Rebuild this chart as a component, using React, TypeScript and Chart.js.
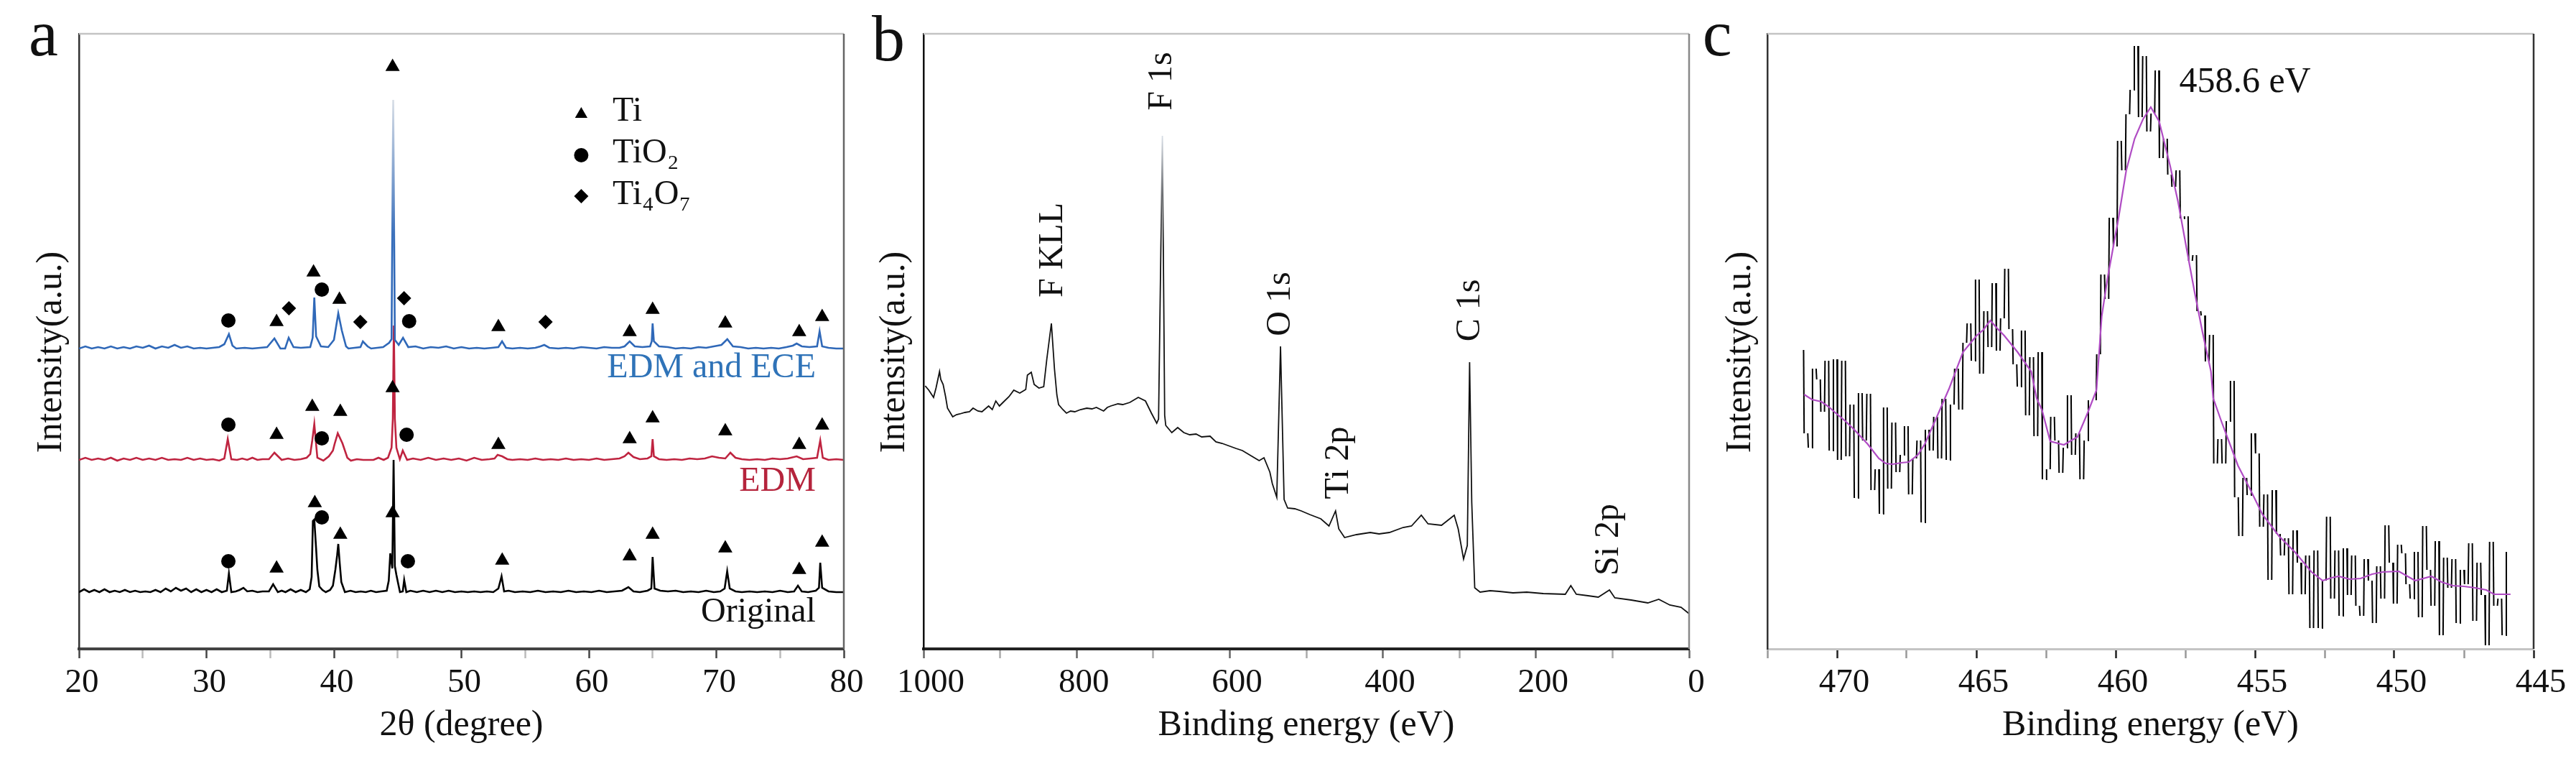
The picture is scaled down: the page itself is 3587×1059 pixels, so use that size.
import { useEffect, useRef } from "react";
import { Chart, registerables } from "chart.js";

Chart.register(...registerables);

const FONT = '"Liberation Serif"';

// panel a: XRD patterns, intensity in a.u.
const originalAngle = [
  20,20.4,20.8,21.2,21.6,22,22.4,22.8,23.2,23.6,
  24,24.4,24.8,25.2,25.6,26,26.4,26.8,27.2,27.6,
  28,28.4,28.8,29.2,29.6,30,30.4,30.8,31.2,31.6,
  31.76,31.95,32.3,32.6,32.9,33.2,33.6,34,34.4,34.9,
  35.23,35.6,35.9,36.2,36.6,37,37.4,37.8,38.1,38.25,
  38.35,38.46,38.6,38.7,38.85,39.1,39.36,39.7,39.92,40.11,
  40.25,40.34,40.45,40.58,40.86,41.3,41.7,42.1,42.5,42.9,
  43.3,43.7,44.14,44.3,44.42,44.58,44.68,44.78,44.9,45.05,
  45.18,45.4,45.51,45.68,46,46.5,47,47.5,48,48.5,
  49,49.5,50,50.5,51,51.5,52,52.5,52.9,53.15,
  53.35,53.7,54.2,54.8,55.4,56,56.6,57.2,57.8,58.4,
  59,59.6,60.2,60.8,61.4,62,62.6,63.1,63.5,64,
  64.6,64.9,65,65.15,65.6,66.2,66.8,67.4,68,68.6,
  69.2,69.8,70.3,70.65,70.85,71.05,71.5,72,72.6,73.2,
  73.8,74.4,75,75.6,76.1,76.4,76.7,77.2,77.8,78.05,
  78.15,78.3,78.8,79.4,80,
];
const originalIntensity = [
  79,83,79,82,79,83,79,81,79,82,
  79,81,79,80,79,82,79,84,80,85,
  81,84,79,83,79,82,79,83,79,81,
  105,79,80,82,85,80,81,79,80,80,
  90,79,81,79,83,79,82,79,83,100,
  178,180,140,110,87,82,79,82,88,110,
  130,146,120,93,79,81,79,80,79,81,
  79,80,81,95,133,112,263,115,103,90,
  79,80,96,79,81,79,81,79,81,79,
  81,79,80,79,80,79,80,79,84,101,
  80,81,79,80,79,81,79,80,79,81,
  79,80,79,81,79,80,81,86,80,79,
  81,84,128,84,81,80,81,79,80,79,
  81,79,80,84,108,84,80,79,80,79,
  80,79,81,79,80,88,80,79,81,85,
  120,85,80,79,79,
];

const edmAngle = [
  20,20.5,21,21.5,22,22.5,23,23.5,24,24.5,
  25,25.5,26,26.5,27,27.5,28,28.5,29,29.5,
  30,30.5,31,31.4,31.67,31.95,32.4,32.8,33.2,33.6,
  34,34.4,34.9,35.33,35.9,36.4,36.9,37.4,37.86,38.14,
  38.3,38.46,38.6,38.7,39.17,39.6,39.92,40.05,40.3,40.67,
  41.05,41.33,41.8,42.3,42.7,43.1,43.49,43.9,44.24,44.52,
  44.62,44.7,44.78,44.9,45.17,45.4,45.74,46.2,46.8,47.4,
  48,48.6,49.2,49.8,50.4,51,51.6,52.2,52.6,52.84,
  53.2,53.6,54,54.6,55.2,55.8,56.4,57,57.6,58.2,
  58.8,59.4,60,60.6,61.2,61.8,62.4,62.8,63.1,63.5,
  64,64.6,64.9,65,65.1,65.5,66.1,66.7,67.3,67.9,
  68.5,69.1,69.66,70.2,70.7,71.1,71.5,72,72.6,73.2,
  73.8,74.4,75,75.6,76.3,76.8,77.4,77.9,78.15,78.35,
  78.8,79.4,80,
];
const edmIntensity = [
  263,266,263,265,263,266,262,265,263,266,
  263,265,263,266,263,264,263,266,263,265,
  263,264,262,265,292,264,263,265,263,266,
  263,264,264,273,263,265,263,264,266,271,
  290,313,285,266,262,268,276,285,300,286,
  266,262,264,263,263,263,266,263,266,280,
  320,450,320,280,264,276,263,265,263,266,
  263,265,263,265,262,266,263,264,265,270,
  268,264,263,264,263,265,263,264,263,265,
  263,264,263,265,263,264,265,268,273,267,
  264,265,268,292,268,264,263,264,263,265,
  264,265,268,266,265,273,266,264,263,264,
  263,265,264,265,268,264,265,266,290,266,
  263,264,263,
];

const eceAngle = [
  20,20.5,21,21.5,22,22.5,23,23.5,24,24.5,
  25,25.5,26,26.5,27,27.5,28,28.5,29,29.5,
  30,30.5,31,31.4,31.76,32.04,32.33,33,33.6,34.2,
  34.76,35.33,35.8,36.17,36.45,36.83,37.4,38.14,38.33,38.46,
  38.6,38.98,39.55,40,40.34,40.62,40.95,41.14,42.08,42.27,
  42.64,42.92,43.86,44.33,44.52,44.65,44.78,45.08,45.42,45.83,
  46.4,47,47.6,48.2,48.8,49.4,50,50.6,51.2,51.8,
  52.4,52.9,53.19,53.5,54,54.6,55.2,55.8,56.2,56.5,
  56.9,57.6,58.2,58.8,59.4,60,60.6,61.2,61.8,62.4,
  62.8,63.2,63.6,64.2,64.8,64.93,65,65.1,65.5,66.2,
  66.8,67.4,68,68.6,69.2,69.8,70.4,70.86,71.3,71.9,
  72.5,73.1,73.7,74.3,74.9,75.5,76,76.3,76.7,77.3,
  77.9,78.1,78.3,78.8,79.4,80,
];
const eceIntensity = [
  418,421,418,420,418,421,418,420,418,421,
  419,422,418,421,419,423,419,421,418,419,
  418,419,420,424,438,422,418,419,418,419,
  420,432,418,418,433,420,419,420,433,489,
  435,421,420,430,467,443,421,418,420,428,
  421,418,420,426,431,764,430,423,433,420,
  421,418,420,419,421,418,420,418,419,418,
  419,420,428,419,418,419,418,419,421,423,
  419,418,419,418,420,419,418,420,419,419,
  421,428,421,420,421,428,453,428,421,420,
  418,419,418,420,419,421,423,431,421,420,
  418,419,418,419,418,420,422,425,421,420,
  421,442,421,419,418,418,
];

const tiMarkAngle = [44.6,38.4,40.43,35.5,52.9,63.2,65,70.7,76.5,78.3,44.6,38.3,40.5,35.5,52.9,63.2,65,70.7,76.5,78.3,44.6,38.5,40.5,35.5,53.2,63.2,65,70.7,76.5,78.3];
const tiMarkIntensity = [810,524,486,455,448,441,472,453,441,462,363,337,330,298,284,292,321,303,284,311,189,203,159,112,123,129,159,140,110,148];
const tio2MarkAngle = [31.72,39.05,45.9,31.72,39.05,45.7,31.72,39.05,45.8];
const tio2MarkIntensity = [457,500,456,312,293,298,122,183,122];
const ti4o7MarkAngle = [36.47,42.07,45.5,56.6];
const ti4o7MarkIntensity = [474,455,488,455];
const legendAngle = [59.4,59.4,59.4];
const legendIntensity = [744,687,630];

// panel b: survey spectrum
const surveyEnergy = [997.8,993.1,986.9,983.7,979.1,977.5,974.4,971.2,968.7,961.9,957,952.5,946,940,935.3,929,923.7,915,910.2,905.6,900.9,896.2,888.4,882.1,874.3,866.5,864.3,859.3,855.5,849.3,843,839,833,829,825.8,823.6,818,813.3,808,802.4,795,786.8,780,774.2,764.8,760,755.5,746.1,739.8,730.5,719.5,710.1,702.3,695.4,693,688,685,683.6,675.7,668,660,652.3,644,636.7,625.7,618,610,602.3,592,583.5,571,561.6,555.3,547.6,544.4,538.6,533.7,529,524.4,515,506.6,495.6,481,470.4,461.8,457.6,450,434.5,416.5,405,391.5,373.5,362.6,349.8,341,323.4,306.8,301.6,294.6,289.7,286.7,283.9,280,273,260,247.9,230,212,190.5,161.7,154.5,147.3,132,118.6,104,97,75.6,53.9,39.6,25.1,10.5,0];
const surveyIntensity = [366,360,350,363,386,375,368,351,335,323,326,327,329,330,335,331,330,338,333,345,338,343,351,360,356,361,381,385,368,363,365,403,453,390,353,340,333,328,331,330,333,335,334,336,331,336,338,341,340,343,350,345,328,314,320,714,325,311,301,308,301,298,299,295,296,288,286,283,279,276,268,262,266,246,230,211,421,208,196,195,192,187,181,171,192,167,155,159,162,160,162,169,171,186,174,172,186,167,125,144,399,204,85,79,81,80,78,79,77,76,88,76,74,72,82,71,68,64,69,61,58,49];

// panel c: Ti 2p narrow scan
const scanEnergy = [471.2,471.05,470.9,470.75,470.6,470.45,470.3,470.15,470,469.85,469.7,469.55,469.4,469.25,469.1,468.95,468.8,468.65,468.5,468.35,468.2,468.05,467.9,467.75,467.6,467.45,467.3,467.15,467,466.85,466.7,466.55,466.4,466.25,466.1,465.95,465.8,465.65,465.5,465.35,465.2,465.05,464.9,464.75,464.6,464.45,464.3,464.15,464,463.85,463.7,463.55,463.4,463.25,463.1,462.95,462.8,462.65,462.5,462.35,462.2,462.05,461.9,461.75,461.6,461.45,461.3,461.15,461,460.85,460.7,460.55,460.4,460.25,460.1,459.95,459.8,459.65,459.5,459.35,459.2,459.05,458.9,458.75,458.6,458.45,458.3,458.15,458,457.85,457.7,457.55,457.4,457.25,457.1,456.95,456.8,456.65,456.5,456.35,456.2,456.05,455.9,455.75,455.6,455.45,455.3,455.15,455,454.85,454.7,454.55,454.4,454.25,454.1,453.95,453.8,453.65,453.5,453.35,453.2,453.05,452.9,452.75,452.6,452.45,452.3,452.15,452,451.85,451.7,451.55,451.4,451.25,451.1,450.95,450.8,450.65,450.5,450.35,450.2,450.05,449.9,449.75,449.6,449.45,449.3,449.15,449,448.85,448.7,448.55,448.4,448.25,448.1,447.95,447.8,447.65,447.5,447.35,447.2,447.05,446.9,446.75,446.6,446.45,446.3,446.15,446,445.85];
const scanIntensity = [416,300,280,390,375,330,401,276,403,263,401,268,340,210,356,290,355,221,250,188,336,223,315,246,270,310,215,265,290,176,305,276,323,265,348,263,340,390,333,426,453,401,514,383,470,420,509,415,460,529,445,396,365,443,325,406,296,413,236,250,323,290,245,280,353,270,300,236,290,346,346,410,521,487,600,560,707,666,744,778,839,740,825,720,745,805,683,710,660,643,666,599,602,540,548,470,464,400,437,258,292,258,317,373,211,157,238,214,300,272,170,215,96,221,160,130,154,76,165,120,76,130,29,137,29,95,184,70,137,46,140,75,130,60,46,125,95,36,115,70,172,120,63,145,133,90,70,135,44,171,110,60,150,19,127,85,125,36,110,90,147,39,120,75,5,149,60,70,19,135];
const fitEnergy = [471.18,470.9,470.56,470.3,470.07,469.7,469.38,468.9,468.5,468.25,468,467.7,467.43,467.1,466.85,466.35,465.97,465.48,464.99,464.75,464.5,464.25,464,463.52,463.03,462.84,462.64,462.35,461.86,461.37,461,460.69,460.5,460.3,459.9,459.62,459.32,459.02,458.74,458.44,458.05,457.76,457.46,457.17,456.88,456.58,456.5,456.2,455.9,455.61,455.21,454.73,454.14,453.55,452.97,452.57,452.25,452,451.6,451.21,450.8,450.42,449.84,449.25,448.67,448.3,447.9,447.5,447.1,446.7,446.42,445.83];
const fitIntensity = [354,347,344,337,329,317,305,285,265,258,257,259,260,270,285,329,363,413,436,444,457,446,436,413,386,349,332,289,284,295,329,360,463,514,599,666,710,737,754,734,673,622,558,497,440,386,349,316,285,255,225,187,157,134,107,95,99,101,97,98,104,107,108,95,101,93,88,87,85,82,76,76];

const angleTicks = [20,30,40,50,60,70,80];
const surveyTicks = [1000,800,600,400,200,0];
const scanTicks = [470,465,460,455,450,445];

const pts = (xs: number[], ys: number[]) => xs.map((x, i) => ({ x, y: ys[i] }));

const line = (xs: number[], ys: number[], color: any, width = 2) => ({
  data: pts(xs, ys),
  showLine: true,
  borderColor: color,
  backgroundColor: "transparent",
  borderWidth: width,
  pointRadius: 0,
  tension: 0,
});

// the tall peaks wash out towards the top in the scan
const fading = (color: string, top: number, mid: number) => (c: any) => {
  const { ctx, scales } = c.chart;
  const y0 = scales.y?.getPixelForValue(top);
  const y1 = scales.y?.getPixelForValue(mid);
  if (!Number.isFinite(y0) || !Number.isFinite(y1)) return color;
  const g = ctx.createLinearGradient(0, y0, 0, y1);
  g.addColorStop(0, "#d8dee6");
  g.addColorStop(1, color);
  return g;
};

// noise sticks: every reading joined to the next one by a short stroke, no link between strokes
const sticks = (xs: number[], ys: number[], color: string, width: number) => {
  const data: { x: number; y: number }[] = [];
  xs.slice(0, -1).forEach((x, i) => {
    data.push({ x, y: ys[i] }, { x: x - 0.02, y: ys[i + 1] });
  });
  return {
    data,
    showLine: true,
    borderColor: color,
    borderWidth: width,
    pointRadius: 0,
    tension: 0,
    segment: { borderColor: (s: any) => (s.p0DataIndex % 2 ? "transparent" : color) },
  };
};

const marks = (xs: number[], ys: number[], style: any, radius = 10) => ({
  data: pts(xs, ys),
  showLine: false,
  pointStyle: style,
  pointRadius: radius,
  pointBorderWidth: 0,
  pointBackgroundColor: "#000",
  pointBorderColor: "#000",
});

// text at data coordinates, drawn on top of the marks
const plotText = {
  id: "plotText",
  afterDraw(chart: any, _args: any, opts: any) {
    const { ctx, scales } = chart;
    for (const t of opts.items || []) {
      ctx.save();
      ctx.translate(scales.x.getPixelForValue(t.x), scales.y.getPixelForValue(t.y));
      if (t.vertical) ctx.rotate(-Math.PI / 2);
      ctx.font = `${t.size || 48}px ${FONT}`;
      ctx.fillStyle = t.color || "#111";
      ctx.textAlign = t.align || "center";
      ctx.textBaseline = "middle";
      ctx.fillText(t.text, 0, 0);
      ctx.restore();
    }
  },
};

// top and right spines
const frame = {
  id: "frame",
  afterDraw(chart: any, _args: any, opts: any) {
    const { ctx, chartArea: a } = chart;
    ctx.save();
    ctx.lineWidth = 2.5;
    ctx.strokeStyle = "#c4c4c4";
    ctx.beginPath();
    ctx.moveTo(a.left, a.top);
    ctx.lineTo(a.right, a.top);
    ctx.stroke();
    ctx.strokeStyle = opts.right;
    ctx.beginPath();
    ctx.moveTo(a.right, a.top);
    ctx.lineTo(a.right, a.bottom);
    ctx.stroke();
    ctx.restore();
  },
};

function options(p: any) {
  return {
    responsive: false,
    devicePixelRatio: 1,
    animation: false,
    events: [],
    layout: {
      autoPadding: false,
      padding: { left: p.plotLeft, right: p.canvasWidth - p.plotWidth - p.plotLeft, top: 47, bottom: 0 },
    },
    plugins: {
      legend: { display: false },
      tooltip: { enabled: false },
      plotText: { items: p.text },
      frame: { right: p.rightSpine },
    },
    scales: {
      x: {
        type: "linear",
        min: p.min,
        max: p.max,
        reverse: p.reverse,
        afterFit(scale: any) {
          scale.height = 156;
        },
        border: { color: p.bottomSpine, width: p.bottomWidth },
        grid: {
          drawOnChartArea: false,
          tickLength: 13,
          tickWidth: 2.5,
          tickColor: (c: any) => (p.ticks.includes(c.tick?.value) ? p.majorTick : p.minorTick),
        },
        ticks: {
          stepSize: p.step,
          autoSkip: false,
          maxRotation: 0,
          minRotation: 0,
          padding: 6,
          labelOffset: p.labelOffset,
          color: "#111",
          font: { family: FONT, size: 47 },
          callback: (v: number) => (p.ticks.includes(v) ? String(v) : ""),
        },
        title: {
          display: true,
          text: p.xTitle,
          color: "#111",
          font: { family: FONT, size: 50 },
          padding: { top: 0, bottom: 19 },
        },
      },
      y: {
        type: "linear",
        min: 0,
        max: 856,
        afterFit(scale: any) {
          scale.width = 0;
        },
        border: { color: p.leftSpine, width: 2.5 },
        grid: { drawOnChartArea: false, drawTicks: false },
        ticks: { display: false },
      },
    },
  };
}

const panelA = {
  left: 0,
  canvasWidth: 1240,
  plotLeft: 110,
  plotWidth: 1065,
  min: 20,
  max: 80,
  step: 5,
  ticks: angleTicks,
  labelOffset: 4,
  xTitle: "2θ (degree)",
  leftSpine: "#333",
  rightSpine: "#666",
  bottomSpine: "#444",
  bottomWidth: 4,
  majorTick: "#444",
  minorTick: "#bbb",
  text: [
    { text: "a", x: 17.2, y: 850, size: 92 },
    { text: "Intensity(a.u.)", x: 17.85, y: 413, vertical: true, size: 50 },
    { text: "Ti", x: 61.86, y: 748, align: "left" },
    { text: "TiO₂", x: 61.86, y: 690, align: "left" },
    { text: "Ti₄O₇", x: 61.86, y: 632, align: "left" },
    { text: "EDM and ECE", x: 77.8, y: 391, align: "right", color: "#2f73b8" },
    { text: "EDM", x: 77.8, y: 233, align: "right", color: "#b5243c" },
    { text: "Original", x: 77.8, y: 51, align: "right" },
  ],
  datasets: [
    marks(tiMarkAngle, tiMarkIntensity, "triangle", 11.5),
    marks(tio2MarkAngle, tio2MarkIntensity, "circle"),
    marks(ti4o7MarkAngle, ti4o7MarkIntensity, "rectRot"),
    marks(legendAngle, legendIntensity, ["triangle", "circle", "rectRot"], 10),
    line(eceAngle, eceIntensity, fading("#2f68b8", 764, 560), 2.6),
    line(edmAngle, edmIntensity, "#bf2440", 2.6),
    line(originalAngle, originalIntensity, "#000", 2.6),
  ],
};

const panelB = {
  left: 1190,
  canvasWidth: 1230,
  plotLeft: 96,
  plotWidth: 1066,
  min: 0,
  max: 1000,
  reverse: true,
  step: 100,
  ticks: surveyTicks,
  labelOffset: 10,
  xTitle: "Binding energy (eV)",
  leftSpine: "#111",
  rightSpine: "#888",
  bottomSpine: "#222",
  bottomWidth: 4,
  majorTick: "#666",
  minorTick: "#aaa",
  text: [
    { text: "b", x: 1046, y: 843, size: 92 },
    { text: "Intensity(a.u.)", x: 1037.5, y: 413, vertical: true, size: 50 },
    { text: "F 1s", x: 688, y: 790, vertical: true },
    { text: "F KLL", x: 830.8, y: 555, vertical: true },
    { text: "O 1s", x: 533.5, y: 480, vertical: true },
    { text: "C 1s", x: 285.6, y: 471, vertical: true },
    { text: "Ti 2p", x: 457.8, y: 259, vertical: true },
    { text: "Si 2p", x: 104.5, y: 152, vertical: true },
  ],
  datasets: [line(surveyEnergy, surveyIntensity, fading("#111", 714, 560), 1.8)],
};

const panelC = {
  left: 2360,
  canvasWidth: 1227,
  plotLeft: 101,
  plotWidth: 1067,
  min: 445,
  max: 472.5,
  reverse: true,
  step: 2.5,
  ticks: scanTicks,
  labelOffset: 10,
  xTitle: "Binding energy (eV)",
  leftSpine: "#333",
  rightSpine: "#333",
  bottomSpine: "#c4c4c4",
  bottomWidth: 3,
  majorTick: "#222",
  minorTick: "#999",
  text: [
    { text: "c", x: 474.3, y: 850, size: 92 },
    { text: "Intensity(a.u.)", x: 473.46, y: 413, vertical: true, size: 50 },
    { text: "458.6 eV", x: 455.36, y: 788, size: 50 },
  ],
  datasets: [
    line(fitEnergy, fitIntensity, "#b04cc4", 2.2),
    sticks(scanEnergy, scanIntensity, "#000", 2),
  ],
};

function Panel({ p }: { p: any }) {
  const ref = useRef<HTMLCanvasElement>(null);

  useEffect(() => {
    const chart = new Chart(ref.current as HTMLCanvasElement, {
      type: "scatter",
      data: { datasets: p.datasets },
      options: options(p) as any,
      plugins: [plotText, frame],
    });
    return () => chart.destroy();
  }, [p]);

  return (
    <canvas
      ref={ref}
      width={p.canvasWidth}
      height={1059}
      style={{ position: "absolute", left: p.left, top: 0 }}
    />
  );
}

export default function App() {
  return (
    <div style={{ position: "absolute", left: 0, top: 0, width: 3587, height: 1059, background: "#fff", overflow: "hidden" }}>
      <Panel p={panelA} />
      <Panel p={panelB} />
      <Panel p={panelC} />
    </div>
  );
}
